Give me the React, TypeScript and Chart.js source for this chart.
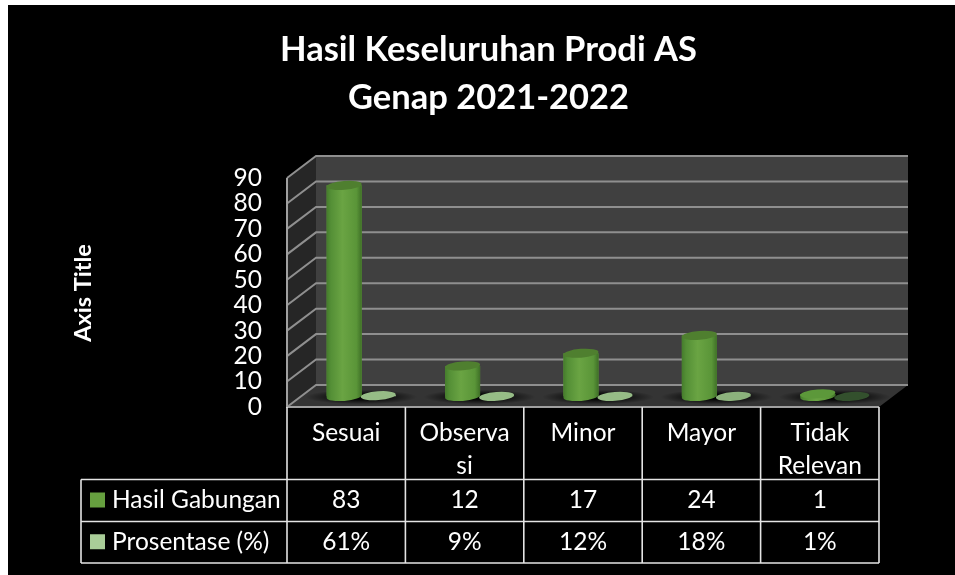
import React, { useEffect, useRef } from "react";
import { Chart, registerables } from "chart.js";

Chart.register(...registerables);

const categories: (string | string[])[] = ["Sesuai", ["Observa", "si"], "Minor", "Mayor", ["Tidak", "Relevan"]];
const hasilGabungan = [83, 12, 17, 24, 1];
const prosentase = [0.61, 0.09, 0.12, 0.18, 0.01];
const prosentaseLabels = ["61%", "9%", "12%", "18%", "1%"];
const titleLines = ["Hasil Keseluruhan Prodi AS", "Genap 2021-2022"];
const axisTitle = "Axis Title";
const seriesNames = ["Hasil Gabungan", "Prosentase (%)"];
const diskColors = ["#96bc86", "#96bc86", "#96bc86", "#8cb27c", "#33502d"];

const FONT = "Lato, Carlito, Calibri, sans-serif";
const TEXT_SIZE = 24.5;
const BACK = { dx: 14, dy: -11.5 };
const FRONT = { dx: -15, dy: 10.5 };

const scene3d = {
  id: "scene3d",
  beforeDatasetsDraw(chart: any) {
    const { ctx, chartArea: a, scales } = chart;
    const y = scales.y;
    const bx0 = a.left + BACK.dx, bx1 = a.right + BACK.dx;
    const fx0 = a.left + FRONT.dx, fx1 = a.right + FRONT.dx;
    const bTop = a.top + BACK.dy, bBot = a.bottom + BACK.dy;
    const fTop = a.top + FRONT.dy, fBot = a.bottom + FRONT.dy;
    ctx.save();
    ctx.fillStyle = "#404040";
    ctx.fillRect(bx0, bTop, bx1 - bx0, bBot - bTop);
    ctx.fillStyle = "#262626";
    ctx.beginPath();
    ctx.moveTo(bx0, bTop); ctx.lineTo(bx0, bBot); ctx.lineTo(fx0, fBot); ctx.lineTo(fx0, fTop);
    ctx.closePath(); ctx.fill();
    ctx.fillStyle = "#343434";
    ctx.beginPath();
    ctx.moveTo(bx0, bBot); ctx.lineTo(bx1, bBot); ctx.lineTo(fx1, fBot); ctx.lineTo(fx0, fBot);
    ctx.closePath(); ctx.fill();

    ctx.strokeStyle = "#8f8f8f";
    ctx.lineWidth = 2;
    y.ticks.forEach((t: any) => {
      const p = y.getPixelForValue(t.value);
      ctx.beginPath();
      ctx.moveTo(fx0, p + FRONT.dy);
      ctx.lineTo(bx0, p + BACK.dy);
      ctx.lineTo(bx1, p + BACK.dy);
      ctx.stroke();
    });
    ctx.beginPath();
    ctx.moveTo(fx0, fTop); ctx.lineTo(fx0, fBot); ctx.lineTo(fx1, fBot);
    ctx.strokeStyle = "#a0a0a0";
    ctx.stroke();

    // soft floor shadows under each group
    const m0 = chart.getDatasetMeta(0).data;
    const m1 = chart.getDatasetMeta(1).data;
    m0.forEach((el: any, i: number) => {
      const cx = (el.x + m1[i].x) / 2;
      ctx.save();
      ctx.translate(cx, a.bottom + 0.5);
      ctx.scale(1, 0.13);
      const g = ctx.createRadialGradient(0, 0, 18, 0, 0, 56);
      g.addColorStop(0, "rgba(0,0,0,0.9)");
      g.addColorStop(1, "rgba(0,0,0,0)");
      ctx.fillStyle = g;
      ctx.beginPath();
      ctx.arc(0, 0, 56, 0, Math.PI * 2);
      ctx.fill();
      ctx.restore();
    });
    ctx.restore();
  },
  afterDatasetsDraw(chart: any) {
    const { ctx } = chart;
    const tilt = -0.08;
    const ry = 4.4;
    ctx.save();
    chart.getDatasetMeta(1).data.forEach((el: any, i: number) => {
      ctx.fillStyle = diskColors[i];
      ctx.beginPath();
      ctx.ellipse(el.x, (el.y + el.base) / 2, el.width / 2, ry, tilt, 0, Math.PI * 2);
      ctx.fill();
    });
    chart.getDatasetMeta(0).data.forEach((el: any) => {
      const rx = el.width / 2;
      const g = ctx.createLinearGradient(el.x - rx, 0, el.x + rx, 0);
      g.addColorStop(0, "#457c2c");
      g.addColorStop(0.12, "#548f36");
      g.addColorStop(0.45, "#6aa443");
      g.addColorStop(0.85, "#5a9538");
      g.addColorStop(1, "#3f7027");
      ctx.fillStyle = g;
      ctx.beginPath();
      ctx.moveTo(el.x - rx, el.y);
      ctx.lineTo(el.x - rx, el.base);
      ctx.ellipse(el.x, el.base, rx, ry, tilt, Math.PI, 0, true);
      ctx.lineTo(el.x + rx, el.y);
      ctx.closePath();
      ctx.fill();
      ctx.fillStyle = el.base - el.y < 5 ? "#5c983a" : "#4f7f2f";
      ctx.beginPath();
      ctx.ellipse(el.x, el.y, rx, ry, tilt, 0, Math.PI * 2);
      ctx.fill();
    });
    ctx.restore();
  },
  afterDraw(chart: any) {
    const { ctx, chartArea: a, scales } = chart;
    const x0 = a.left + FRONT.dx, x1 = a.right + FRONT.dx;
    const band = (x1 - x0) / categories.length;
    const tableLeft = 73;
    const rowYs = [474.5, 516.5, 558];
    const fBot = a.bottom + FRONT.dy;
    ctx.save();
    ctx.strokeStyle = "#e4e4e4";
    ctx.lineWidth = 1.6;
    rowYs.forEach((ry) => {
      ctx.beginPath(); ctx.moveTo(tableLeft, ry); ctx.lineTo(x1, ry); ctx.stroke();
    });
    ctx.beginPath(); ctx.moveTo(tableLeft, rowYs[0]); ctx.lineTo(tableLeft, rowYs[2]); ctx.stroke();
    for (let i = 0; i <= categories.length; i++) {
      const vx = x0 + band * i;
      ctx.beginPath(); ctx.moveTo(vx, fBot); ctx.lineTo(vx, rowYs[2]); ctx.stroke();
    }
    ctx.font = `${TEXT_SIZE}px ${FONT}`;
    ctx.textBaseline = "middle";
    [hasilGabungan, prosentase].forEach((vals, r) => {
      const cy = (rowYs[r] + rowYs[r + 1]) / 2;
      ctx.fillStyle = chart.data.datasets[r].backgroundColor;
      ctx.fillRect(82, cy - 8, 15, 15);
      ctx.fillStyle = "#ffffff";
      ctx.textAlign = "left";
      ctx.fillText(seriesNames[r], 104, cy);
      ctx.textAlign = "center";
      vals.forEach((v, i) => {
        const text = r === 0 ? String(v) : prosentaseLabels[i];
        ctx.fillText(text, scales.x.getPixelForValue(i) + FRONT.dx, cy);
      });
    });
    // y axis title
    ctx.translate(75, 288);
    ctx.rotate(-Math.PI / 2);
    ctx.font = `bold 23.5px ${FONT}`;
    ctx.textAlign = "center";
    ctx.fillText(axisTitle, 0, 0);
    ctx.restore();
  },
};

export default function App() {
  const ref = useRef<HTMLCanvasElement>(null);
  useEffect(() => {
    if (!ref.current) return;
    const chart = new Chart(ref.current, {
      type: "bar",
      data: {
        labels: categories as any,
        datasets: [
          { label: seriesNames[0], data: hasilGabungan, backgroundColor: "#66a03f", categoryPercentage: 0.575, barPercentage: 1.03 },
          { label: seriesNames[1], data: prosentase, backgroundColor: "#a9cd98", categoryPercentage: 0.575, barPercentage: 1.03 },
        ],
      },
      options: {
        responsive: false,
        animation: false,
        events: [],
        layout: { autoPadding: false, padding: { left: 75, right: 61, top: 0, bottom: 0 } },
        plugins: {
          legend: { display: false },
          tooltip: { enabled: false },
          title: {
            display: true,
            text: titleLines,
            color: "#ffffff",
            font: { family: FONT, size: 34.5, weight: "bold", lineHeight: 48 / 34.5 },
            padding: { top: 21, bottom: 45.5 },
          },
        },
        scales: {
          x: {
            grid: { display: false, drawTicks: false },
            border: { display: false },
            ticks: {
              color: "#ffffff",
              font: { family: FONT, size: TEXT_SIZE, lineHeight: 33 / TEXT_SIZE },
              padding: 20.5,
              labelOffset: FRONT.dx,
              autoSkip: false,
              maxRotation: 0,
              minRotation: 0,
            },
            afterFit: (s: any) => { s.height = 178.5; },
          },
          y: {
            min: 0,
            max: 90,
            grid: { display: false, drawTicks: false },
            border: { display: false },
            ticks: {
              stepSize: 10,
              autoSkip: false,
              color: "#ffffff",
              font: { family: FONT, size: TEXT_SIZE },
              padding: 40,
              labelOffset: FRONT.dy,
            },
            afterFit: (s: any) => { s.width = 219; },
          },
        },
      },
      plugins: [scene3d],
    } as any);
    return () => chart.destroy();
  }, []);
  return (
    <div style={{ position: "absolute", left: 8, top: 5, width: 947, height: 570, background: "#000" }}>
      <canvas ref={ref} width={947} height={570} style={{ display: "block" }} />
    </div>
  );
}
